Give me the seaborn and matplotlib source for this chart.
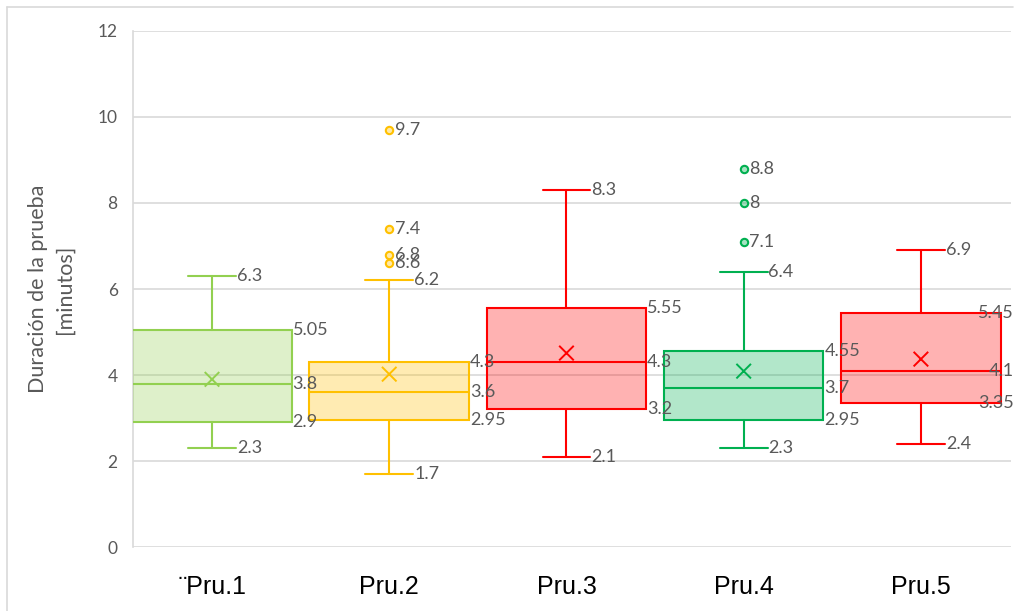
import matplotlib
matplotlib.use("Agg")
import matplotlib.pyplot as plt
import seaborn as sns
import pandas as pd
from matplotlib.lines import Line2D
from matplotlib.colors import to_rgba

# box statistics
categories = ["¨Pru.1", "Pru.2", "Pru.3", "Pru.4", "Pru.5"]
whisker_low = [2.3, 1.7, 2.1, 2.3, 2.4]
q1 = [2.9, 2.95, 3.2, 2.95, 3.35]
median = [3.8, 3.6, 4.3, 3.7, 4.1]
q3 = [5.05, 4.3, 5.55, 4.55, 5.45]
whisker_high = [6.3, 6.2, 8.3, 6.4, 6.9]
means = [3.9, 4.02, 4.51, 4.09, 4.37]
outliers = [[], [6.6, 6.8, 7.4, 9.7], [], [7.1, 8.0, 8.8], []]
colors = ["#92D050", "#FFC000", "#FF0000", "#00B050", "#FF0000"]

sns.set_theme(style="white")
plt.rcParams["font.family"] = ["Lato", "DejaVu Sans"]

GREY = "#595959"
GRID = "#D9D9D9"

fig = plt.figure(figsize=(10.15, 6.11), dpi=100)
ax = fig.add_axes([0.131, 0.1047, 0.865, 0.8446])

positions = list(range(len(categories)))
stats = []
for i in positions:
    stats.append({"whislo": whisker_low[i], "q1": q1[i], "med": median[i],
                  "q3": q3[i], "whishi": whisker_high[i], "fliers": [],
                  "mean": means[i], "label": categories[i]})

bp = ax.bxp(stats, positions=positions, widths=0.9, capwidths=0.27,
            patch_artist=True, showfliers=False, showmeans=False, zorder=3)

for i, c in enumerate(colors):
    bp["boxes"][i].set_facecolor(to_rgba(c, 0.3))
    bp["boxes"][i].set_edgecolor(c)
    bp["boxes"][i].set_linewidth(1.5)
    bp["medians"][i].set_color(c)
    bp["medians"][i].set_linewidth(1.5)
    for k in (2 * i, 2 * i + 1):
        bp["whiskers"][k].set_color(c)
        bp["whiskers"][k].set_linewidth(1.5)
        bp["caps"][k].set_color(c)
        bp["caps"][k].set_linewidth(1.5)

# means and outliers
mean_df = pd.DataFrame({"pos": positions, "mean": means, "cat": categories})
sns.scatterplot(data=mean_df, x="pos", y="mean", hue="cat", palette=colors,
                marker="x", s=110, linewidth=1.4, legend=False, ax=ax, zorder=4)

out_rows = [(i, v, categories[i]) for i in positions for v in outliers[i]]
out_df = pd.DataFrame(out_rows, columns=["pos", "val", "cat"])
for cat, grp in out_df.groupby("cat"):
    c = colors[categories.index(cat)]
    sns.scatterplot(data=grp, x="pos", y="val", marker="o", s=28,
                    facecolor=to_rgba(c, 0.35), edgecolor=c, linewidth=1.5,
                    legend=False, ax=ax, zorder=4)

# data labels
def fmt(v):
    return f"{v:g}"

LBL = 13
for i in positions:
    last = i == len(positions) - 1
    for v in (whisker_low[i], whisker_high[i]):
        ax.text(i + 0.14, v, fmt(v), ha="left", va="center", fontsize=LBL,
                color=GREY, zorder=5)
    for v in (q1[i], median[i], q3[i]):
        if last:
            ax.text(4.525, v, fmt(v), ha="right", va="center", fontsize=LBL,
                    color=GREY, zorder=5, clip_on=False)
        else:
            ax.text(i + 0.455, v, fmt(v), ha="left", va="center", fontsize=LBL,
                    color=GREY, zorder=5)
    for v in outliers[i]:
        ax.text(i + 0.03, v, fmt(v), ha="left", va="center", fontsize=LBL,
                color=GREY, zorder=5)

ax.set_xlim(-0.446, 4.508)
ax.set_ylim(0, 12)
ax.set_yticks(range(0, 13, 2))
ax.set_xticks(positions)
ax.set_xticklabels(categories, fontsize=18, color="black",
                   family=["Liberation Sans", "DejaVu Sans"])
ax.tick_params(axis="y", labelsize=12.5, labelcolor=GREY, length=0, pad=11)
ax.tick_params(axis="x", length=0, pad=20)
ax.yaxis.grid(True, color=GRID, linewidth=1.2)
ax.set_axisbelow(True)
for s in ("top", "right", "bottom"):
    ax.spines[s].set_visible(False)
ax.spines["left"].set_color(GRID)
ax.spines["left"].set_linewidth(1.2)
ax.set_xlabel("")
ax.set_ylabel("Duración de la prueba\n[minutos]", fontsize=15.5, color=GREY,
              linespacing=1.45)
ax.yaxis.set_label_coords(-0.066, 0.5)

# chart border (top and left visible)
fig.add_artist(Line2D([7 / 1015, 1013 / 1015], [1 - 7 / 611, 1 - 7 / 611],
                      transform=fig.transFigure, color=GRID, linewidth=1.2))
fig.add_artist(Line2D([7 / 1015, 7 / 1015], [0, 1 - 7 / 611],
                      transform=fig.transFigure, color=GRID, linewidth=1.2))

fig.savefig("out.png", dpi=100)
